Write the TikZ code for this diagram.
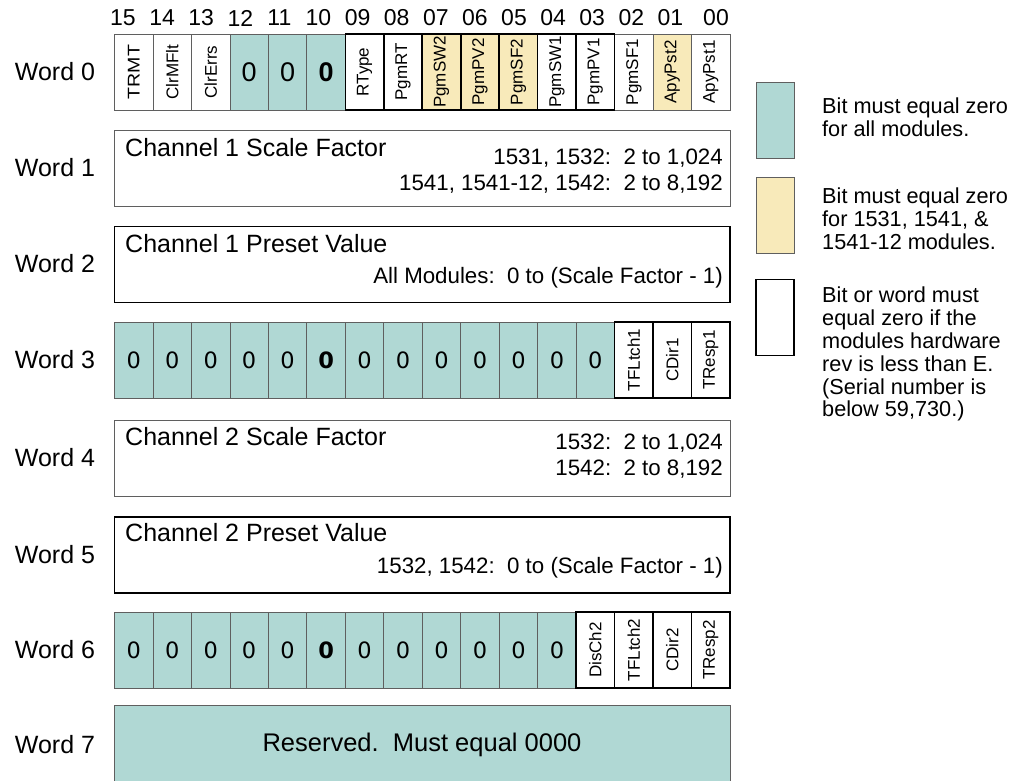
\documentclass[tikz,border=0pt]{standalone}
\usepackage{fontspec}
\setmainfont{Liberation Sans}
\newfontfamily\zfont{DejaVu Sans}
\definecolor{zteal}{RGB}{176,216,212}
\definecolor{zyel}{RGB}{248,234,186}
\definecolor{zgray}{RGB}{95,95,95}
\tikzset{
  cellbase/.style={rectangle, inner sep=0pt, outer sep=0pt, minimum width=38.47pt, minimum height=76pt},
  thinw/.style={cellbase, draw=zgray, line width=0.8pt, fill=white},
  thiny/.style={cellbase, draw=zgray, line width=0.8pt, fill=zyel},
  tealc/.style={cellbase, draw=zgray, line width=0.8pt, fill=zteal},
  thickw/.style={cellbase, draw=black, line width=1.6pt, fill=white},
  thicky/.style={cellbase, draw=black, line width=1.6pt, fill=zyel},
  widebox/.style={rectangle, inner sep=0pt, outer sep=0pt, minimum width=615.5pt, minimum height=76pt},
  rot/.style={rotate=90, inner sep=0pt, font=\fontsize{17}{19}\selectfont},
  zeroa/.style={inner sep=0pt, font=\fontsize{27}{30}\selectfont},
  zeroab/.style={inner sep=0pt, font=\fontsize{27}{30}\selectfont\bfseries},
  zero/.style={inner sep=0pt, font=\fontsize{22.5}{26}\zfont},
  zerob/.style={inner sep=0pt, font=\fontsize{22.5}{26}\zfont\bfseries},
  hdr/.style={inner sep=0pt, font=\fontsize{23}{26}\selectfont},
  wlab/.style={inner sep=0pt, font=\fontsize{25}{29}\selectfont},
  big/.style={inner sep=0pt, font=\fontsize{25}{29}\selectfont},
  small/.style={inner sep=0pt, font=\fontsize{22.3}{26}\selectfont},
  legtext/.style={inner sep=0pt, anchor=north west, align=left, font=\fontsize{21.7}{22.8}\selectfont},
  legbox/.style={rectangle, inner sep=0pt, outer sep=0pt, minimum width=38pt, minimum height=76pt}
}
\begin{document}
\begin{tikzpicture}[x=1pt,y=-1pt]
\useasboundingbox (0,0) rectangle (1015,781);
\clip (0,0) rectangle (1015,781);

% header numbers
\foreach \n [count=\i from 0] in {15,14,13,12,11,10,09,08,07,06,05,04,03,02,01}
  \node[hdr] (h\n) at ({123+39.1*\i},18) {\n};
\node[hdr] (h00) at (716,18) {00};

% word labels
\foreach \w/\y in {0/72,1/168,2/264,3/360,4/458,5/555,6/650,7/745}
  \node[wlab] (wl\w) at (55,\y) {Word \w};

% ---------- Word 0 ----------
\foreach \k/\sty/\txt in {0/thinw/\scalebox{1.15}[1]{TRMT},1/thinw/ClrMFlt,2/thinw/ClrErrs,13/thinw/PgmSF1,14/thiny/ApyPst2,15/thinw/ApyPst1,
                         6/thickw/RType,7/thickw/PgmRT,8/thicky/PgmSW2,9/thicky/PgmPV2,10/thicky/PgmSF2,11/thickw/PgmSW1,12/thickw/PgmPV1}{
  \node[\sty] (w0c\k) at ({114.5+38.47*(\k+0.5)},72) {};
  \node[rot] (w0t\k) at (w0c\k) {\txt};
}
\foreach \k in {3,4,5}
  \node[tealc] (w0c\k) at ({114.5+38.47*(\k+0.5)},72) {};
\node[zeroa] (w0t3) at (w0c3) {0};
\node[zeroa] (w0t4) at (w0c4) {0};
\node[zeroab] (w0t5) at (w0c5) {0};
% redraw thick cells on top of neighbours
\foreach \k in {6,7,8,9,10,11,12}
  \draw[black, line width=1.6pt] (w0c\k.north west) rectangle (w0c\k.south east);

% ---------- Word 1 ----------
\node[widebox, draw=zgray, line width=0.8pt, fill=white] (w1) at (422.25,168.5) {};
\node[big, anchor=west] (w1a) at (125,148) {Channel 1 Scale Factor};
\node[small, anchor=east] (w1b) at (723,158) {1531, 1532:\ \ 2 to 1,024};
\node[small, anchor=east] (w1c) at (723,184) {1541, 1541-12, 1542:\ \ 2 to 8,192};

% ---------- Word 2 ----------
\node[widebox, draw=black, line width=1.6pt, fill=white] (w2) at (422.25,264.5) {};
\node[big, anchor=west] (w2a) at (125,244) {Channel 1 Preset Value};
\node[small, anchor=east] (w2b) at (723,278) {All Modules:\ \ 0 to (Scale Factor - 1)};

% ---------- Word 3 ----------
\foreach \k in {0,...,12}
  \node[tealc] (w3c\k) at ({114.5+38.47*(\k+0.5)},360) {};
\foreach \k in {0,1,2,3,4,6,7,8,9,10,11,12}
  \node[zero] (w3t\k) at (w3c\k) {0};
\node[zerob] (w3t5) at (w3c5) {0};
\foreach \k/\txt in {13/TFLtch1,14/CDir1,15/TResp1}{
  \node[thickw] (w3c\k) at ({114.5+38.47*(\k+0.5)},360) {};
  \node[rot] (w3t\k) at (w3c\k) {\txt};
}

% ---------- Word 4 ----------
\node[widebox, draw=zgray, line width=0.8pt, fill=white] (w4) at (422.25,458.5) {};
\node[big, anchor=west] (w4a) at (125,437) {Channel 2 Scale Factor};
\node[small, anchor=east] (w4b) at (723,443) {1532:\ \ 2 to 1,024};
\node[small, anchor=east] (w4c) at (723,469) {1542:\ \ 2 to 8,192};

% ---------- Word 5 ----------
\node[widebox, draw=black, line width=1.6pt, fill=white] (w5) at (422.25,555) {};
\node[big, anchor=west] (w5a) at (125,533) {Channel 2 Preset Value};
\node[small, anchor=east] (w5b) at (723,568) {1532, 1542:\ \ 0 to (Scale Factor - 1)};

% ---------- Word 6 ----------
\foreach \k in {0,...,11}
  \node[tealc] (w6c\k) at ({114.5+38.47*(\k+0.5)},650) {};
\foreach \k in {0,1,2,3,4,6,7,8,9,10,11}
  \node[zero] (w6t\k) at (w6c\k) {0};
\node[zerob] (w6t5) at (w6c5) {0};
\foreach \k/\txt in {12/DisCh2,13/TFLtch2,14/CDir2,15/TResp2}{
  \node[thickw] (w6c\k) at ({114.5+38.47*(\k+0.5)},650) {};
  \node[rot] (w6t\k) at (w6c\k) {\txt};
}

% ---------- Word 7 ----------
\node[widebox, draw=zgray, line width=0.8pt, fill=zteal, minimum height=90pt] (w7) at (422.25,750) {};
\node[big, font=\fontsize{25.5}{29}\selectfont] (w7a) at (422,745) {Reserved.\ \ Must equal 0000};

% ---------- Legend ----------
\node[legbox, draw=zgray, line width=0.8pt, fill=zteal] (lg1) at (775,120) {};
\node[legtext] (lt1) at (822,98) {Bit must equal zero\\for all modules.};
\node[legbox, draw=zgray, line width=0.8pt, fill=zyel] (lg2) at (775,215.5) {};
\node[legtext] (lt2) at (822,188) {Bit must equal zero\\for 1531, 1541, \&\\1541-12 modules.};
\node[legbox, draw=black, line width=1.6pt, fill=white] (lg3) at (775,317.5) {};
\node[legtext] (lt3) at (822,287) {Bit or word must\\equal zero if the\\modules hardware\\rev is less than E.\\(Serial number is\\below 59,730.)};
\end{tikzpicture}
\end{document}
